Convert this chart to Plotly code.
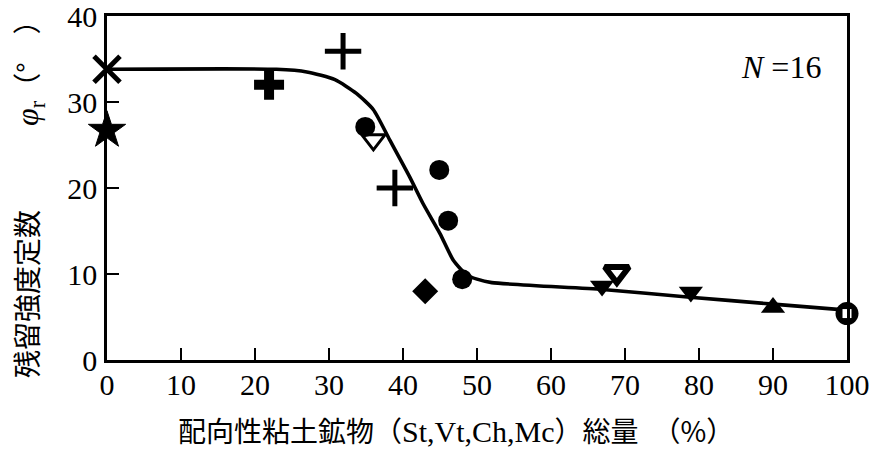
import plotly.graph_objects as go

# ---- data ----
x_tick_vals = [0, 10, 20, 30, 40, 50, 60, 70, 80, 90, 100]
y_tick_vals = [0, 10, 20, 30, 40]

curve_x = [0, 22.9, 27.0, 30.8, 33.7, 36.0, 38.2, 40.9, 42.7, 45.0, 46.8, 48.6, 50.0, 52.0, 67.0, 78.8, 90.0, 100.0]
curve_y = [33.8, 33.8, 33.5, 32.6, 31.0, 29.1, 25.6, 21.3, 18.2, 14.7, 11.6, 9.9, 9.4, 9.0, 8.2, 7.3, 6.5, 5.8]

x_mark_x, x_mark_y = [0], [33.8]
star_x, star_y = [0], [26.7]
thickplus_x, thickplus_y = [21.9], [32.0]
plus_x, plus_y = [31.9, 38.9], [35.9, 20.0]
circle_x, circle_y = [34.9, 44.9, 46.1, 48.0], [27.1, 22.1, 16.2, 9.4]
tri_open_x, tri_open_y = [36.0], [25.6]
diamond_x, diamond_y = [43.0], [8.0]
tri_down_x, tri_down_y = [66.9, 78.9], [8.6, 7.9]
tri_half_x, tri_half_y = [68.9], [10.2]
tri_up_x, tri_up_y = [90.0], [6.1]
circsq_x, circsq_y = [100.0], [5.4]

fig = go.Figure()

fig.add_trace(go.Scatter(x=curve_x, y=curve_y, mode="lines",
                         line=dict(color="black", width=3.6, shape="spline", smoothing=0.6),
                         hoverinfo="skip", cliponaxis=False))

def mk(x, y, symbol, size, lw=0, color="black", lc="black"):
    fig.add_trace(go.Scatter(x=x, y=y, mode="markers", cliponaxis=False,
                             marker=dict(symbol=symbol, size=size, color=color,
                                         line=dict(width=lw, color=lc))))

mk(x_mark_x, x_mark_y, "x-thin-open", 26, 5)
mk(star_x, star_y, "star", 28, 1)
mk(thickplus_x, thickplus_y, "cross", 25, 0)
mk(plus_x, plus_y, "cross-thin-open", 26, 5)
mk(circle_x, circle_y, "circle", 20, 0)
mk(tri_open_x, tri_open_y, "triangle-down-open", 20, 3)
mk(diamond_x, diamond_y, "diamond", 20, 0)
mk(tri_down_x, tri_down_y, "triangle-down", 21, 0)
mk(tri_half_x, tri_half_y, "triangle-down-open", 21, 6)
mk(tri_up_x, tri_up_y, "triangle-up", 21, 0)
mk(circsq_x, circsq_y, "circle", 23, 0)
mk(circsq_x, circsq_y, "square", 9, 0, color="white")

serif = "Liberation Serif, Times New Roman, serif"
cjk = "Noto Sans CJK JP"

axis_common = dict(showgrid=False, zeroline=False, showline=True, linecolor="black",
                   linewidth=2.5, mirror=True, ticks="inside", ticklen=12, tickwidth=1.5,
                   tickcolor="black", ticklabeloverflow="allow", automargin=False,
                   tickfont=dict(family=serif, size=30, color="black"))

L, T, W, H = 107, 16, 740, 344

def px(xp):
    return (xp - L) / W

def py(yp):
    return (T + H - yp) / H

fig.update_layout(
    width=877, height=452,
    margin=dict(l=L, r=877 - L - W, t=T, b=452 - T - H, autoexpand=False),
    paper_bgcolor="white", plot_bgcolor="white",
    showlegend=False,
    xaxis=dict(range=[0, 100], tickvals=x_tick_vals, ticklabelstandoff=-4, **axis_common),
    yaxis=dict(range=[0, 40], tickvals=y_tick_vals, ticklabelstandoff=1, **axis_common),
    annotations=[
        dict(text="<i>N</i> =16", x=px(781), y=py(67), xref="paper", yref="paper",
             xanchor="center", yanchor="middle",
             showarrow=False, font=dict(family=serif, size=32, color="black")),
        dict(text="配向性粘土鉱物（<span style='font-family:Liberation Serif;font-size:30px'>St,Vt,Ch,Mc</span>）総量　（%）",
             x=px(456), y=py(430), xref="paper", yref="paper",
             xanchor="center", yanchor="middle", showarrow=False,
             font=dict(family=cjk, size=28, color="black")),
        dict(text="残留強度定数　　　<span style='font-family:Liberation Serif;font-size:32px'><i>φ</i><sub>r</sub></span>（°　）",
             textangle=-90, x=px(28), y=py(192), xref="paper", yref="paper",
             xanchor="center", yanchor="middle",
             showarrow=False, font=dict(family=cjk, size=28, color="black")),
    ],
)

fig.write_html("out.html")
